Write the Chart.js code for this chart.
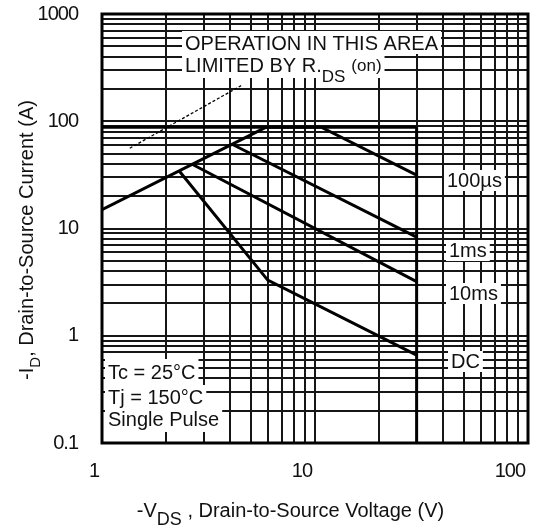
<!DOCTYPE html>
<html>
<head>
<meta charset="utf-8">
<title>Maximum Safe Operating Area</title>
<script src="https://cdn.jsdelivr.net/npm/chart.js@4.4.1/dist/chart.umd.min.js"></script>
<style>
  html, body { margin: 0; padding: 0; background: #fff; }
  #wrap { width: 552px; height: 527px; }
</style>
</head>
<body>
<div id="wrap"><canvas id="soa" width="552" height="527"></canvas></div>
<script>
const X_DECADES = [1, 10, 100];
const Y_DECADES = [0.1, 1, 10, 100, 1000];
const MINOR_STEPS = [1, 2, 3, 4, 5, 6, 7, 8, 9];

// curves, -VDS (V) against -ID (A)
const rdsV = [1, 5.9];
const rdsI = [15, 88];
const limitV = [1, 30];
const limitI = [88, 88];
const vdssV = [30, 30];
const vdssI = [88, 0.1];
const us100V = [5.9, 10.7, 30];
const us100I = [88, 88, 31.5];
const ms1V = [4.08, 30];
const ms1I = [61, 8.3];
const ms10V = [2.65, 30];
const ms10I = [39.7, 3.2];
const dcV = [2.3, 6.0, 30];
const dcI = [34.5, 3.3, 0.66];
const pointerV = [1.35, 4.5];
const pointerI = [56, 215];

const FONT = '"Liberation Sans", Arial, Helvetica, sans-serif';
const font = px => px + 'px ' + FONT;
const INK = '#111';

function logTicks(decades) {
  const out = [];
  decades.forEach((d, i) => {
    if (i === decades.length - 1) { out.push(d); return; }
    MINOR_STEPS.forEach(m => out.push(+(d * m).toPrecision(3)));
  });
  return out;
}

function pts(xs, ys) { return xs.map((x, i) => ({ x, y: ys[i] })); }

function curve(label, xs, ys, width, dash) {
  return {
    label, data: pts(xs, ys), borderColor: '#000', borderWidth: width,
    borderDash: dash || [], pointRadius: 0, fill: false, tension: 0
  };
}

// text laid over the grid with a white patch behind it (pixel placement)
const notes = [
  { x: 185, base: 50, top: 31, bottom: 54, pad: 3, parts: [{ t: 'OPERATION IN THIS AREA', size: 20 }] },
  { x: 185, base: 72, top: 54, bottom: 78, pad: 3, parts: [
    { t: 'LIMITED BY R.', size: 20 }, { t: 'DS', size: 17, dy: 10 }, { t: '(on)', size: 17, gap: 6, dy: -1 }] },
  { x: 447, base: 187, top: 170, bottom: 191, pad: 3, parts: [{ t: '100µs', size: 20 }] },
  { x: 449, base: 257, top: 240, bottom: 261, pad: 3, parts: [{ t: '1ms', size: 20 }] },
  { x: 449, base: 300, top: 283, bottom: 304, pad: 3, parts: [{ t: '10ms', size: 20 }] },
  { x: 451, base: 368, top: 351, bottom: 372, pad: 3, parts: [{ t: 'DC', size: 20 }] },
  { x: 108, base: 379, top: 359, bottom: 385, pad: 3, parts: [{ t: 'Tc = 25°C', size: 20 }] },
  { x: 108, base: 404, top: 385, bottom: 408, pad: 3, parts: [{ t: 'Tj = 150°C', size: 20 }] },
  { x: 108, base: 426, top: 408, bottom: 432, pad: 3, parts: [{ t: 'Single Pulse', size: 20 }] }
];

function runWidth(ctx, parts) {
  let w = 0;
  parts.forEach(p => { ctx.font = font(p.size); w += (p.gap || 0) + ctx.measureText(p.t).width; });
  return w;
}

function drawRun(ctx, parts, x, base) {
  parts.forEach(p => {
    x += p.gap || 0;
    ctx.font = font(p.size);
    ctx.fillText(p.t, x, base + (p.dy || 0));
    x += ctx.measureText(p.t).width;
  });
}

function noPad(s) { s.paddingTop = 0; s.paddingBottom = 0; s.paddingLeft = 0; s.paddingRight = 0; }

const spacing = {
  id: 'spacing',
  beforeUpdate(chart) { chart.ctx.letterSpacing = '-1px'; },
  beforeDraw(chart) { chart.ctx.letterSpacing = '-1px'; }
};

const overlay = {
  id: 'overlay',
  afterDatasetsDraw(chart) {
    const ctx = chart.ctx;
    ctx.save();
    ctx.letterSpacing = '0px';
    ctx.textBaseline = 'alphabetic';
    ctx.textAlign = 'left';
    notes.forEach(n => {
      const w = runWidth(ctx, n.parts);
      ctx.fillStyle = '#fff';
      ctx.fillRect(n.x - n.pad, n.top, w + n.pad * 2, n.bottom - n.top);
      ctx.fillStyle = INK;
      drawRun(ctx, n.parts, n.x, n.base);
    });
    ctx.restore();
  },
  afterDraw(chart) {
    const ctx = chart.ctx;
    const a = chart.chartArea;
    ctx.save();
    ctx.strokeStyle = '#000';
    ctx.lineWidth = 3;
    ctx.strokeRect(a.left, a.top, a.right - a.left, a.bottom - a.top);

    ctx.fillStyle = INK;
    ctx.textBaseline = 'alphabetic';
    ctx.textAlign = 'left';
    ctx.letterSpacing = '0px';

    // x title with subscript
    const xt = [{ t: '-V', size: 20 }, { t: 'DS', size: 18, dy: 8 }, { t: ' , Drain-to-Source Voltage (V)', size: 20 }];
    const xw = runWidth(ctx, xt);
    drawRun(ctx, xt, 290.5 - xw / 2, 517);

    // y title, rotated
    const yt = [{ t: '-I', size: 20 }, { t: 'D', size: 15, dy: 7 }, { t: ', Drain-to-Source Current (A)', size: 20 }];
    const yw = runWidth(ctx, yt);
    ctx.translate(33, 240 + yw / 2);
    ctx.rotate(-Math.PI / 2);
    drawRun(ctx, yt, 0, 0);
    ctx.restore();
  }
};

const gridOpts = { color: '#161616', lineWidth: 2, drawTicks: false };

new Chart(document.getElementById('soa'), {
  type: 'line',
  data: {
    datasets: [
      curve('RDS(on) limit', rdsV, rdsI, 3),
      curve('current limit', limitV, limitI, 3),
      curve('VDSS limit', vdssV, vdssI, 3),
      curve('100µs', us100V, us100I, 3),
      curve('1ms', ms1V, ms1I, 3),
      curve('10ms', ms10V, ms10I, 3),
      curve('DC', dcV, dcI, 3),
      curve('pointer', pointerV, pointerI, 1.3, [3, 2])
    ]
  },
  options: {
    responsive: false,
    animation: false,
    devicePixelRatio: 1,
    layout: { padding: { top: 14, right: 24, left: 0, bottom: 0 } },
    plugins: { legend: { display: false }, tooltip: { enabled: false } },
    scales: {
      x: {
        type: 'logarithmic', min: 1, max: 100,
        afterBuildTicks: s => { s.ticks = logTicks(X_DECADES).map(v => ({ value: v })); },
        afterFit: s => { s.height = 84; noPad(s); },
        grid: gridOpts,
        border: { display: false },
        ticks: {
          autoSkip: false, maxRotation: 0, padding: 16, color: INK,
          align: 'end', labelOffset: -3,
          font: { family: FONT, size: 20 },
          callback: v => X_DECADES.includes(v) ? String(v) : ''
        }
      },
      y: {
        type: 'logarithmic', min: 0.1, max: 1000,
        afterBuildTicks: s => { s.ticks = logTicks(Y_DECADES).map(v => ({ value: v })); },
        afterFit: s => { s.width = 102; noPad(s); },
        grid: gridOpts,
        border: { display: false },
        ticks: {
          autoSkip: false, padding: 24, color: INK,
          font: { family: FONT, size: 20 },
          callback: v => Y_DECADES.includes(v) ? String(v) : ''
        }
      }
    }
  },
  plugins: [spacing, overlay]
});
</script>
</body>
</html>
